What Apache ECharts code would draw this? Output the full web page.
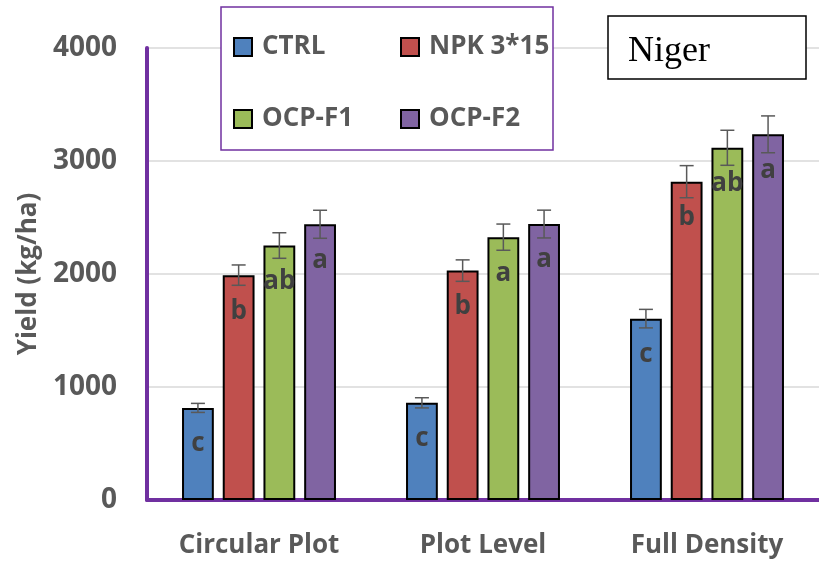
<!DOCTYPE html>
<html>
<head>
<meta charset="utf-8">
<script src="https://cdn.jsdelivr.net/npm/echarts@6/dist/echarts.min.js"></script>
<style>
html,body{margin:0;padding:0;background:#fff;}
#chart{width:819px;height:563px;}
</style>
</head>
<body>
<div id="chart"></div>
<script>
const categories = ['Circular Plot', 'Plot Level', 'Full Density'];
const seriesNames = ['CTRL', 'NPK 3*15', 'OCP-F1', 'OCP-F2'];
const ctrl = [815, 860, 1605];
const npk = [1990, 2030, 2817];
const ocpF1 = [2252, 2326, 3117];
const ocpF2 = [2440, 2442, 3236];
const ctrlErr = [40, 45, 82];
const npkErr = [90, 95, 142];
const ocpF1Err = [113, 116, 155];
const ocpF2Err = [124, 123, 163];
const ctrlLetters = ['c', 'c', 'c'];
const npkLetters = ['b', 'b', 'b'];
const ocpF1Letters = ['ab', 'a', 'ab'];
const ocpF2Letters = ['a', 'a', 'a'];
const yTicks = [0, 1000, 2000, 3000, 4000];

const colors = ['#4f81bd', '#c0504d', '#9bbb59', '#8064a2'];
const values = [ctrl, npk, ocpF1, ocpF2];
const errs = [ctrlErr, npkErr, ocpF1Err, ocpF2Err];
const letters = [ctrlLetters, npkLetters, ocpF1Letters, ocpF2Letters];
const FONT = "'Open Sans', 'Noto Sans', sans-serif";
const BAR_W = 0.142, BAR_GAP = 0.28;

const series = [];
values.forEach((vals, i) => {
  series.push({
    name: seriesNames[i],
    type: 'bar',
    data: vals,
    barWidth: (BAR_W * 100) + '%',
    barGap: (BAR_GAP * 100) + '%',
    itemStyle: { color: colors[i], borderColor: '#000', borderWidth: 2 },
    label: {
      show: true, position: 'insideTop', distance: 23,
      formatter: p => letters[i][p.dataIndex],
      fontFamily: FONT, fontWeight: 'bold', fontSize: 26, color: '#404040'
    },
    z: 2
  });
});
values.forEach((vals, i) => {
  series.push({
    type: 'custom',
    silent: true,
    z: 10,
    data: vals.map((v, k) => [k, v, errs[i][k]]),
    renderItem: (params, api) => {
      const x = api.value(0), v = api.value(1), e = api.value(2);
      const hi = api.coord([x, v + e]);
      const lo = api.coord([x, v - e]);
      const band = api.size([1, 0])[0];
      const bw = band * BAR_W;
      const cx = hi[0] + (i - 1.5) * bw * (1 + BAR_GAP);
      const cap = 7;
      const st = { stroke: '#595959', lineWidth: 1.5 };
      return {
        type: 'group',
        children: [
          { type: 'line', shape: { x1: cx, y1: hi[1], x2: cx, y2: lo[1] }, style: st },
          { type: 'line', shape: { x1: cx - cap, y1: hi[1], x2: cx + cap, y2: hi[1] }, style: st },
          { type: 'line', shape: { x1: cx - cap, y1: lo[1], x2: cx + cap, y2: lo[1] }, style: st }
        ]
      };
    }
  });
});

const legendText = {
  fontFamily: FONT, fontWeight: 'bold', fontSize: 26, color: '#595959',
  width: 118, lineHeight: 18, padding: [0, 0, 0, 5]
};

const chart = echarts.init(document.getElementById('chart'), null, { renderer: 'canvas' });
chart.setOption({
  animation: false,
  color: colors,
  grid: { left: 147, right: -6, top: 48, bottom: 63, containLabel: false },
  legend: [
    { data: [seriesNames[0], seriesNames[1]], left: 233, top: 34, padding: 0, itemWidth: 18, itemHeight: 18, itemGap: 20, icon: 'rect', textStyle: legendText, z: 20, selectedMode: false },
    { data: [seriesNames[2], seriesNames[3]], left: 233, top: 106, padding: 0, itemWidth: 18, itemHeight: 18, itemGap: 20, icon: 'rect', textStyle: legendText, z: 20, selectedMode: false }
  ],
  xAxis: {
    type: 'category',
    data: categories,
    axisTick: { show: false },
    axisLine: { show: true, lineStyle: { color: '#7030a0', width: 4 } },
    axisLabel: { fontFamily: FONT, fontWeight: 'bold', fontSize: 26, color: '#595959', margin: 33 }
  },
  yAxis: {
    type: 'value',
    min: yTicks[0], max: yTicks[yTicks.length - 1], interval: 1000,
    name: 'Yield (kg/ha)',
    nameLocation: 'middle', nameRotate: 90, nameGap: 102,
    nameTextStyle: { fontFamily: FONT, fontWeight: 'bold', fontSize: 26, color: '#595959' },
    axisLine: { show: true, lineStyle: { color: '#7030a0', width: 4 } },
    axisTick: { show: false },
    axisLabel: { fontFamily: FONT, fontWeight: 'bold', fontSize: 28, color: '#595959', margin: 30, formatter: v => String(v) },
    splitLine: { show: true, lineStyle: { color: '#d9d9d9', width: 1.5 } }
  },
  graphic: [
    { type: 'rect', z: 5, shape: { x: 221, y: 7, width: 332, height: 143 }, style: { fill: '#fff', stroke: '#7030a0', lineWidth: 1.5 } },
    { type: 'rect', z: 5, shape: { x: 608, y: 16, width: 198, height: 63 }, style: { fill: '#fff', stroke: '#000', lineWidth: 1.5 } },
    { type: 'text', z: 6, x: 628, y: 52, style: { text: 'Niger', fill: '#000', font: "36px 'Liberation Serif', 'DejaVu Serif', serif", verticalAlign: 'middle' } }
  ],
  series: series
});
</script>
</body>
</html>
